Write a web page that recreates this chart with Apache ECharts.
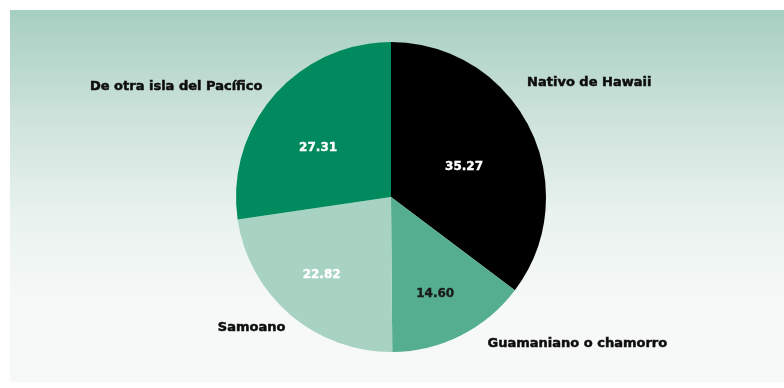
<!DOCTYPE html>
<html>
<head>
<meta charset="utf-8">
<script src="https://cdn.jsdelivr.net/npm/echarts@6/dist/echarts.min.js"></script>
<style>
html,body{margin:0;padding:0;background:#fff;width:784px;height:388px;overflow:hidden;}
#chart{position:absolute;left:10px;top:10px;width:774px;height:372px;}
</style>
</head>
<body>
<div id="chart"></div>
<script>
const categories = ['Nativo de Hawaii', 'Guamaniano o chamorro', 'Samoano', 'De otra isla del Pacífico'];
const values = [35.27, 14.60, 22.82, 27.31];

const sliceColors = ['#000000', '#55ae90', '#a8d3c3', '#008a5d'];
const valueLabelColors = ['#ffffff', '#1a1a1a', '#ffffff', '#ffffff'];
const innerShift = [[1, 6], [8, 25], [-17, 17], [-12, 4]];
const outerShift = [[-36, -38], [0, -5], [25, 2], [20, 1]];

const chart = echarts.init(document.getElementById('chart'), null, {renderer: 'canvas'});

const innerData = categories.map((c, i) => ({
  name: c, value: values[i],
  itemStyle: {color: sliceColors[i]},
  label: {color: valueLabelColors[i], textBorderColor: valueLabelColors[i]}
}));
const outerData = categories.map((c, i) => ({name: c, value: values[i]}));

chart.setOption({
  animation: false,
  backgroundColor: {
    type: 'linear', x: 0, y: 0, x2: 0, y2: 1,
    colorStops: [
      {offset: 0, color: '#a6cfc0'},
      {offset: 0.3, color: '#cfe3dc'},
      {offset: 0.55, color: '#e9f2ef'},
      {offset: 0.8, color: '#f6f9f8'},
      {offset: 1, color: '#f7f9f8'}
    ]
  },
  series: [
    {
      type: 'pie',
      center: [381, 187],
      radius: [0, 155],
      startAngle: 90,
      clockwise: true,
      silent: true,
      data: innerData,
      itemStyle: {borderWidth: 0},
      label: {
        show: true, position: 'inside',
        formatter: p => p.value.toFixed(2),
        fontFamily: 'DejaVu Sans', fontWeight: 'bold', fontSize: 12,
        textBorderWidth: 0.4
      },
      labelLayout: p => ({dx: innerShift[p.dataIndex][0], dy: innerShift[p.dataIndex][1]}),
      labelLine: {show: false}
    },
    {
      type: 'pie',
      center: [381, 187],
      radius: [0, 155],
      startAngle: 90,
      clockwise: true,
      silent: true,
      data: outerData,
      itemStyle: {color: 'rgba(0,0,0,0)', borderWidth: 0},
      label: {
        show: true, position: 'outside',
        formatter: '{b}',
        color: '#0d0d0d',
        textBorderColor: '#0d0d0d', textBorderWidth: 0.5,
        fontFamily: 'DejaVu Sans', fontWeight: 'bold', fontSize: 13
      },
      labelLine: {show: false, length: 15, length2: 15},
      labelLayout: p => ({dx: outerShift[p.dataIndex][0], dy: outerShift[p.dataIndex][1]})
    }
  ]
});
</script>
</body>
</html>
